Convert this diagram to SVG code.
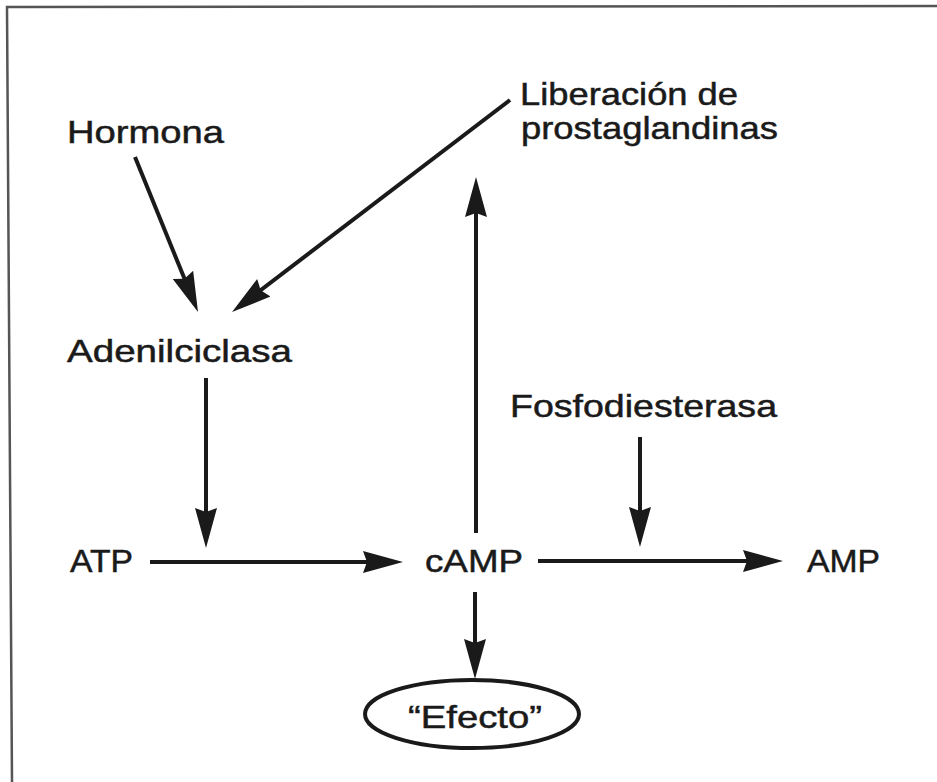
<svg xmlns="http://www.w3.org/2000/svg" width="937" height="782" viewBox="0 0 937 782">
<style>
.t{font-family:"Liberation Sans",Arial,sans-serif;font-size:32px;fill:#1a1a1a;stroke:#1a1a1a;stroke-width:0.5}
.c{stroke:#1a1a1a;stroke-width:4;fill:none;marker-end:url(#ah)}
</style>
<defs>
<marker id="ah" markerUnits="userSpaceOnUse" markerWidth="44" markerHeight="26" refX="32" refY="12" orient="auto" viewBox="0 0 44 26">
<path d="M0,1 L40,12 L0,23 L4,12 Z" fill="#1a1a1a"/>
</marker>
</defs>
<rect width="937" height="782" fill="#fff"/>
<polyline points="12,782 7,7 937,6" fill="none" stroke="#555" stroke-width="2.5"/>
<g id="hormona"><text class="t" x="67" y="143" textLength="157" lengthAdjust="spacingAndGlyphs">Hormona</text></g>
<g id="prostaglandinas"><text class="t" x="520" y="105" textLength="218" lengthAdjust="spacingAndGlyphs">Liberación de</text><text class="t" x="521" y="139" textLength="257" lengthAdjust="spacingAndGlyphs">prostaglandinas</text></g>
<g id="adenilciclasa"><text class="t" x="67" y="362" textLength="225" lengthAdjust="spacingAndGlyphs">Adenilciclasa</text></g>
<g id="fosfodiesterasa"><text class="t" x="510" y="417" textLength="267" lengthAdjust="spacingAndGlyphs">Fosfodiesterasa</text></g>
<g id="atp"><text class="t" x="70" y="572" textLength="63" lengthAdjust="spacingAndGlyphs">ATP</text></g>
<g id="camp"><text class="t" x="425" y="572" textLength="98" lengthAdjust="spacingAndGlyphs">cAMP</text></g>
<g id="amp"><text class="t" x="807" y="572" textLength="73" lengthAdjust="spacingAndGlyphs">AMP</text></g>
<g id="efecto"><ellipse cx="472" cy="714" rx="107" ry="34" fill="none" stroke="#1a1a1a" stroke-width="4"/><text class="t" x="408" y="728" textLength="134" lengthAdjust="spacingAndGlyphs">“Efecto”</text></g>
<g id="connectors">
<line class="c" x1="135" y1="157" x2="195" y2="304.6"/>
<line class="c" x1="510" y1="100" x2="238.4" y2="307.2"/>
<line class="c" x1="206" y1="378" x2="206" y2="540"/>
<line class="c" x1="150" y1="562" x2="395" y2="562"/>
<line class="c" x1="476" y1="533" x2="476" y2="185"/>
<line class="c" x1="640" y1="437" x2="640" y2="539"/>
<line class="c" x1="538" y1="561" x2="775" y2="561"/>
<line class="c" x1="475" y1="592" x2="475" y2="671"/>
</g>
</svg>
